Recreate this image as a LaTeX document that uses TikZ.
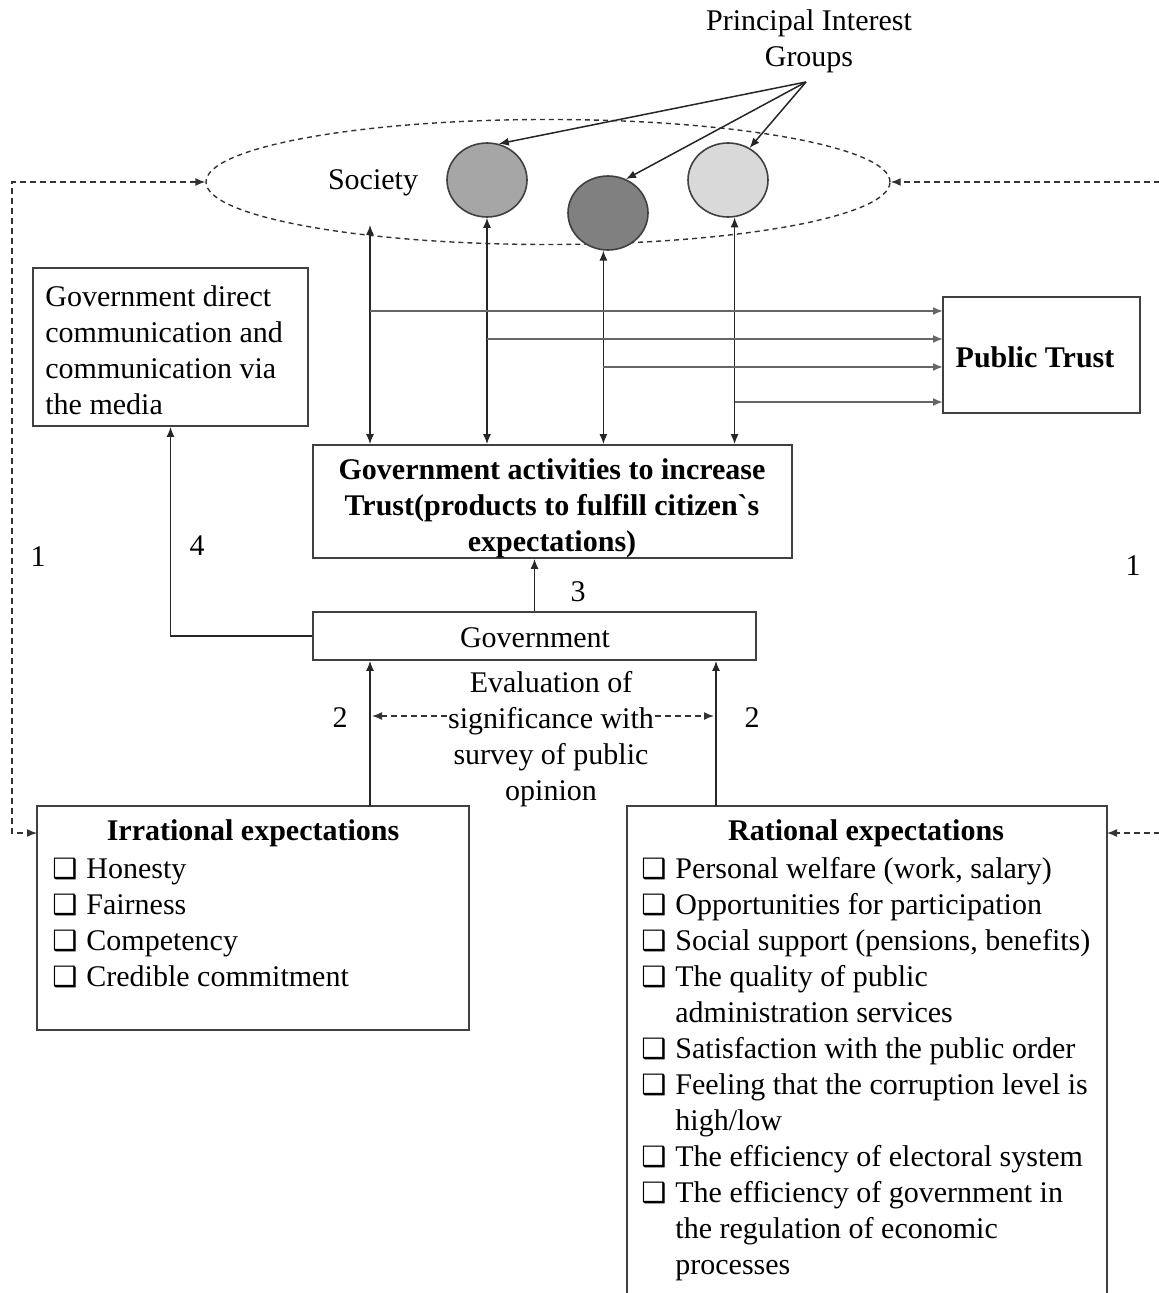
\documentclass[tikz,border=0pt]{standalone}
\usepackage{fontspec}
\setmainfont{Liberation Serif}
\newfontfamily\symf{DejaVu Sans}
\usetikzlibrary{shapes.geometric,fit,arrows.meta,calc}
\newcommand{\cbx}{{\symf\fontsize{14}{18}\selectfont ❑}}
\begin{document}
\begin{tikzpicture}[x=0.5pt,y=-0.5pt, font=\fontsize{15}{18}\selectfont,
  box/.style={draw=black!75, line width=0.9pt, inner sep=0pt},
  tip/.tip={Latex[length=5pt,width=4pt]},
  arr/.style={-tip, line width=0.75pt, draw=black!85},
  dbl/.style={tip-tip, line width=0.7pt, draw=black!85},
  harr/.style={-tip, line width=0.9pt, draw=black!60},
  dsh/.style={dash pattern=on 3pt off 2pt, line width=0.7pt, draw=black!80},
  bold/.style={font=\fontsize{15}{18}\selectfont\bfseries}]
\useasboundingbox (0,0) rectangle (1158,1293);

% top
\node[align=center] (pig) at (809,41) {Principal Interest\\Groups};
\coordinate (po) at (806,82);
\node[ellipse, draw=black!80, dash pattern=on 2.5pt off 2pt, line width=0.7pt,
      minimum width=342pt, minimum height=62.5pt, inner sep=0pt] (soc) at (548,182) {};
\node (sty) at (373,183) {Society};
\node[ellipse, draw=black!75, line width=0.8pt, fill=black!35, minimum width=40pt, minimum height=37pt, inner sep=0pt] (c1) at (487,180) {};
\node[ellipse, draw=black!75, line width=0.8pt, fill=black!50, minimum width=40pt, minimum height=37pt, inner sep=0pt] (c2) at (608,213) {};
\node[ellipse, draw=black!75, line width=0.8pt, fill=black!15, minimum width=40pt, minimum height=37pt, inner sep=0pt] (c3) at (728,180) {};
\draw[arr] (po) -- (c1.72);
\draw[arr] (po) -- (c2.62);
\draw[arr] (po) -- (c3.56);

% boxes
\node[box, fit={(33,268)(308,426)}] (gd) {};
\node[align=left, anchor=west, inner sep=0pt] (gdt) at (45,350) {Government direct\\communication and\\communication via\\the media};
\node[box, fit={(943,297)(1140,413)}] (pt) {};
\node[bold] (ptt) at (1035,357) {Public Trust};
\node[box, fit={(313,445)(792,558)}] (act) {};
\node[bold, align=center] (actt) at (552,508) {Government activities to increase\\Trust(products to fulfill citizen\textasciigrave s\\expectations)};
\node[box, fit={(313,612)(756,660)}] (gov) {};
\node (govt) at (535,638) {Government};

% vertical double arrows
\coordinate (s0) at (370,225);
\draw[dbl] (s0) -- (s0 |- act.north);
\draw[dbl] (c1.south) -- (c1.south |- act.north);
\draw[dbl] (c2.263) -- (c2.263 |- act.north);
\draw[dbl] (c3.280) -- (c3.280 |- act.north);

% horizontal arrows to public trust
\coordinate (h1) at (943,311);
\coordinate (h2) at (943,339);
\coordinate (h3) at (943,367);
\coordinate (h4) at (943,402);
\draw[harr] (h1 -| s0) -- (h1);
\draw[harr] (h2 -| c1.south) -- (h2);
\draw[harr] (h3 -| c2.263) -- (h3);
\draw[harr] (h4 -| c3.280) -- (h4);

% government arrows
\draw[arr] (gov.north) -- (gov.north |- act.south);
\node (n3) at (578,592) {3};
\draw[arr] (gov.west) -| (gd.south);
\node (n4) at (197,546) {4};

% expectation boxes
\node[box, fit={(37,806)(469,1030)}] (irr) {};
\node[bold] (irrt) at (253,833) {Irrational expectations};
\node[anchor=north west, inner sep=0pt] (irrl) at (52,853) {\begin{tabular}{@{}p{17pt}@{}l@{}}
\cbx & Honesty\\
\cbx & Fairness\\
\cbx & Competency\\
\cbx & Credible commitment
\end{tabular}};

\node[box, fit={(627,806)(1107,1310)}] (rat) {};
\node[bold] (ratt) at (866,833) {Rational expectations};
\node[anchor=north west, inner sep=0pt] (ratl) at (641,853) {\begin{tabular}{@{}p{17pt}@{}l@{}}
\cbx & Personal welfare (work, salary)\\
\cbx & Opportunities for participation\\
\cbx & Social support (pensions, benefits)\\
\cbx & The quality of public\\
 & administration services\\
\cbx & Satisfaction with the public order\\
\cbx & Feeling that the corruption level is\\
 & high/low\\
\cbx & The efficiency of electoral system\\
\cbx & The efficiency of government in\\
 & the regulation of economic\\
 & processes
\end{tabular}};

% arrows 2
\coordinate (a2l) at (370,806);
\coordinate (a2r) at (716,806);
\draw[arr] (a2l) -- (a2l |- gov.south);
\draw[arr] (a2r) -- (a2r |- gov.south);
\node (n2l) at (340,718) {2};
\node (n2r) at (752,718) {2};

\node[align=center] (ev) at (551,739) {Evaluation of\\significance with\\survey of public\\opinion};
\coordinate (el) at (447,716);
\coordinate (er) at (655,716);
\draw[dsh,-tip] (el) -- ($(el -| a2l)+(2,0)$);
\draw[dsh,-tip] (er) -- ($(er -| a2r)+(-2,0)$);

% dashed feedback lines
\coordinate (lx) at (12,0);
\coordinate (ia) at (37,833);
\draw[dsh,tip-tip] (soc.west) -- (soc.west -| lx) -- (lx |- ia) -- (ia);
\node (n1l) at (38,557) {1};
\coordinate (rx) at (1180,0);
\coordinate (ra) at (1107,833);
\draw[dsh,-tip] (rx |- soc.east) -- (soc.east);
\draw[dsh,-tip] (rx |- ra) -- (ra);
\node (n1r) at (1133,566) {1};
\end{tikzpicture}
\end{document}
